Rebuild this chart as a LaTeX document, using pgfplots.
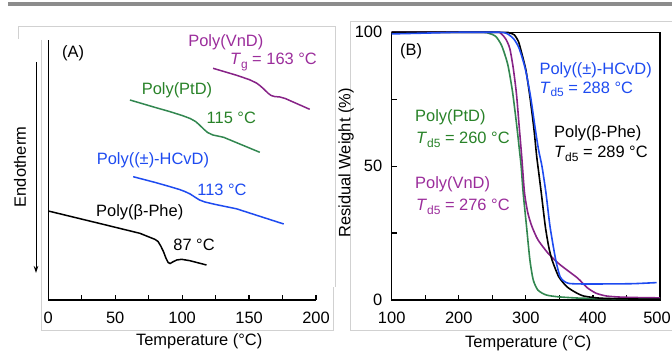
\documentclass[border=0pt]{standalone}
\usepackage{fontspec}
\setmainfont{Liberation Sans}
\usepackage{pgfplots}
\pgfplotsset{compat=1.18}
\usetikzlibrary{arrows.meta}
\definecolor{vn}{RGB}{135,35,135}
\definecolor{vnt}{RGB}{155,45,155}
\definecolor{pt}{RGB}{50,135,80}
\definecolor{ptt}{RGB}{40,130,40}
\definecolor{hc}{RGB}{30,75,240}
\newcommand{\Td}{\textit{T}\raisebox{-0.45ex}{\fontsize{12}{12}\selectfont d5}}
\newcommand{\Tg}{\textit{T}\raisebox{-0.45ex}{\fontsize{12}{12}\selectfont g}}
\newcommand{\fs}{\fontsize{16.5}{19}\selectfont}
\begin{document}
\begin{tikzpicture}[font=\fs]
\path[use as bounding box] (0,0) rectangle (672bp,352bp);
% decorations
\fill[black!45] (8bp,346bp) rectangle (672bp,350bp);
\draw[black!18, line width=0.8bp] (18.3bp,313bp) -- (18.3bp,325.3bp) -- (335bp,325.3bp) -- (335bp,65bp);
\draw[black!18, line width=0.8bp] (41.7bp,312bp) -- (41.7bp,22bp) -- (333.3bp,22bp) -- (333.3bp,65bp);
\draw[black!18, line width=0.8bp] (672bp,330.3bp) -- (350bp,330.3bp) -- (350bp,22bp) -- (672bp,22bp);

% ---------------- Panel A ----------------
\begin{axis}[at={(48.3bp,52bp)}, anchor=south west, scale only axis,
  width=267.7bp, height=260bp,
  xmin=0, xmax=200, ymin=0, ymax=260,
  axis x line=bottom, axis y line=left,
  axis line style={-, line width=1.4bp, black},
  xtick={0,50,...,200}, minor xtick={25,75,125,175}, ytick=\empty,
  tick align=inside, major tick length=5bp, minor tick length=5bp,
  tick style={line width=1.2bp, black},
  xticklabel style={font=\fs, yshift=-8.6bp},
  /pgf/number format/assume math mode=true,
  clip=false]
\addplot[black, line width=1.5bp] coordinates {
(0,89) (40,76) (68.4,66.7) (79.6,60.7) (82,58.5) (84,54) (86,48.5) (88,41.5) (89.5,37.5) (91,36.5) (93.3,38.3) (96,40) (99.6,40.7) (105.8,39.3) (118.2,35)};
\addplot[hc, line width=1.5bp] coordinates {
(63.4,123.3) (80,117.5) (91,113.3) (98,110.5) (102,108.5) (106,106) (110,102.5) (113,100) (117,98) (125,95.5) (140.6,91.2) (175.9,76)};
\addplot[pt, line width=1.5bp] coordinates {
(61,200) (80,192.5) (91,188.3) (100,184.5) (106,181.5) (110,178.5) (113,175) (116,171) (119,167.5) (123,165) (131,162.7) (158,147.7)};
\addplot[vn, line width=1.5bp] coordinates {
(123.1,231.7) (140,225) (150,220.5) (155.5,217) (158,214.5) (161,211) (164,207) (166.5,204.5) (169,203.5) (173,203) (177,201.5) (195.3,190.7)};
\node[anchor=center] at (axis cs:18.5,247) {(A)};
\node[anchor=west, inner sep=0, text=vnt] at (axis cs:104.5,257.7) {Poly(VnD)};
\node[anchor=west, inner sep=0, text=vnt] at (axis cs:135.6,238.3) {\Tg{} = 163 °C};
\node[anchor=west, inner sep=0, text=ptt] at (axis cs:69.7,210) {Poly(PtD)};
\node[anchor=west, inner sep=0, text=ptt] at (axis cs:118.2,181.7) {115 °C};
\node[anchor=west, inner sep=0, text=hc] at (axis cs:36.1,140) {Poly((±)-HCvD)};
\node[anchor=west, inner sep=0, text=hc] at (axis cs:111.2,110) {113 °C};
\node[anchor=west, inner sep=0] at (axis cs:35.6,88) {Poly(β-Phe)};
\node[anchor=west, inner sep=0] at (axis cs:93.3,55) {87 °C};
\end{axis}

% ---------------- Panel B ----------------
\begin{axis}[at={(391.7bp,52bp)}, anchor=south west, scale only axis,
  width=268.3bp, height=267.7bp,
  xmin=100, xmax=500, ymin=0, ymax=100,
  xtick={100,200,300,400,500}, minor xtick={150,250,350,450},
  xticklabels={100,200,300,400,\hspace*{-6bp}500},
  ytick={0,50,100}, minor ytick={25,75},
  xtick pos=left, ytick pos=left,
  tick align=inside, major tick length=5bp, minor tick length=5bp,
  axis line style={line width=1.4bp, black},
  tick style={line width=1.2bp, black},
  xticklabel style={font=\fs, yshift=-8.6bp},
  yticklabel style={font=\fs, xshift=-6bp},
  /pgf/number format/assume math mode=true,
  clip=false]
\addplot[pt, line width=1.6bp, smooth, tension=0.4] coordinates {
(100,100) (230,100) (245,99.6) (255,98.5) (264,95) (273,88) (280,78) (286,66) (290,57) (293,50) (296,40) (301,27.5) (306,15) (311,7.5) (318,3.7) (330,1.9) (348,1.2) (380,0.7) (420,0.5) (500,0.4)};
\addplot[vn, line width=1.6bp, smooth, tension=0.4] coordinates {
(100,100) (250,100) (262,99.7) (270,97.5) (276,94) (281,87) (286,77) (290,65) (294,53) (298,40) (303,32.5) (309,27.5) (318,22.5) (333,17.5) (348,13.8) (365,10.5) (378,8) (392,4.5) (405,2.5) (420,1.5) (440,1.1) (470,0.9) (500,0.8)};
\addplot[black, line width=1.6bp, smooth, tension=0.4] coordinates {
(100,100) (260,100) (275,99.8) (283,99) (289,96.5) (293,93) (300,86) (306,76) (312,64) (316,54) (319,48) (323,40) (329,27.5) (334,20) (339,15) (349,8.7) (361,5) (373,3) (386,1.5) (410,0.7) (450,0.4) (500,0.3)};
\addplot[hc, line width=1.6bp, smooth, tension=0.4] coordinates {
(100,99.4) (150,99.7) (200,100) (260,100) (272,99.5) (282,97.5) (290,94) (299,86.5) (307,76) (314,64) (319,56) (324,50) (330,40) (336,27.5) (344.5,15) (351,8.7) (357,7) (364,6.2) (380,6) (420,6) (460,6.1) (495,6.5)};
\node[anchor=west, inner sep=0] at (axis cs:112.4,92.8) {(B)};
\node[anchor=west, inner sep=0, text=hc] at (axis cs:320.1,85.9) {Poly((±)-HCvD)};
\node[anchor=west, inner sep=0, text=hc] at (axis cs:320.1,78.7) {\Td{} = 288 °C};
\node[anchor=west, inner sep=0, text=ptt] at (axis cs:134.7,68.2) {Poly(PtD)};
\node[anchor=west, inner sep=0, text=ptt] at (axis cs:136.2,59.8) {\Td{} = 260 °C};
\node[anchor=west, inner sep=0, text=vnt] at (axis cs:134.7,43.2) {Poly(VnD)};
\node[anchor=west, inner sep=0, text=vnt] at (axis cs:136.2,34.9) {\Td{} = 276 °C};
\node[anchor=west, inner sep=0] at (axis cs:342,62.3) {Poly(β-Phe)};
\node[anchor=west, inner sep=0] at (axis cs:342,54.5) {\Td{} = 289 °C};
\end{axis}

% axis titles
\node at (199.2bp,10.3bp) {Temperature (°C)};
\node at (528.3bp,8.7bp) {Temperature (°C)};
\node[rotate=90] at (346bp,189bp) {Residual Weight (\%)};
\node[rotate=90] at (20bp,185bp) {Endotherm};
\draw[-{Stealth[length=7bp,width=4.5bp]}, line width=1bp] (36bp,290bp) -- (36bp,79bp);
\end{tikzpicture}
\end{document}
